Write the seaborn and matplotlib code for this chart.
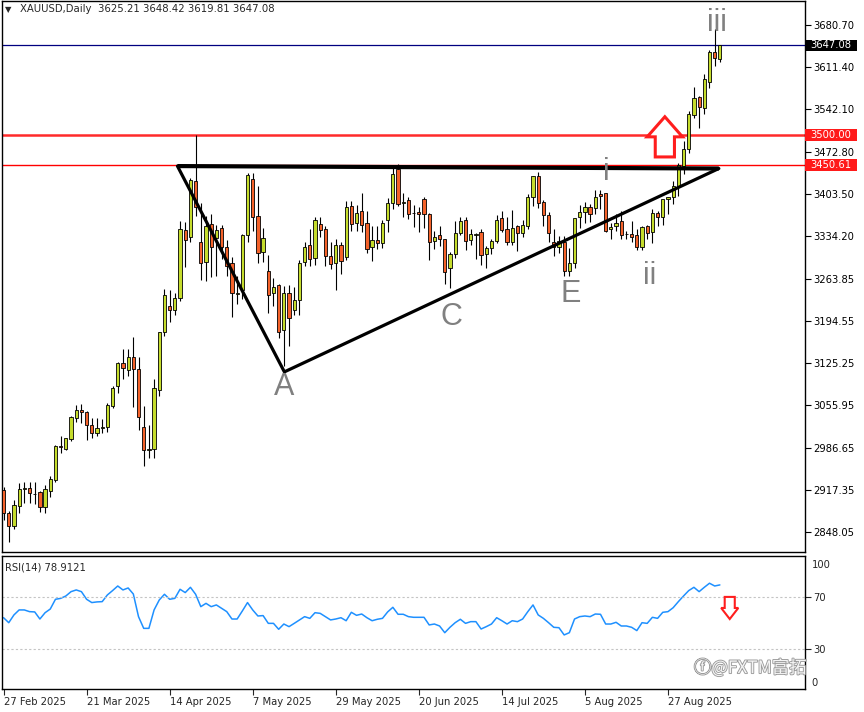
import seaborn as sns
import matplotlib.pyplot as plt
import matplotlib.patheffects as pe
from matplotlib.patches import Polygon, Rectangle
from matplotlib.transforms import blended_transform_factory
import numpy as np
import pandas as pd

# daily bars, 27 Feb 2025 .. 10 Sep 2025 (no bar on Good Friday)
dates = pd.bdate_range("2025-02-27", "2025-09-10")
dates = dates[dates != pd.Timestamp("2025-04-18")]

opens = [2917, 2879, 2858, 2891, 2919, 2920, 2911, 2914, 2889, 2915,
         2933, 2989, 2985, 3001, 3035, 3049, 3045, 3024, 3011, 3019,
         3021, 3055, 3088, 3125, 3114, 3135, 3116, 3020, 2983, 2985,
         3081, 3176, 3219, 3213, 3232, 3344, 3332, 3424, 3325, 3291,
         3354, 3331, 3347, 3316, 3290, 3239, 3245, 3335, 3428, 3367,
         3308, 3277, 3240, 3254, 3180, 3241, 3213, 3229, 3291, 3319,
         3298, 3354, 3346, 3301, 3290, 3319, 3300, 3383, 3355, 3375,
         3355, 3316, 3327, 3322, 3360, 3388, 3444, 3388, 3393, 3372,
         3373, 3395, 3370, 3326, 3336, 3329, 3282, 3305, 3339, 3360,
         3327, 3336, 3341, 3305, 3314, 3326, 3364, 3346, 3324, 3350,
         3339, 3350, 3398, 3432, 3390, 3369, 3324, 3316, 3324, 3277,
         3290, 3365, 3374, 3382, 3380, 3403, 3405, 3346, 3351, 3359,
         3337, 3337, 3336, 3316, 3350, 3341, 3372, 3365, 3395, 3398,
         3416, 3449, 3477, 3533, 3563, 3544, 3587, 3636, 3625.21]
highs = [2922, 2883, 2900, 2929, 2930, 2930, 2930, 2915, 2925, 2940,
         2991, 3006, 3003, 3038, 3057, 3058, 3047, 3036, 3035, 3033,
         3060, 3087, 3128, 3149, 3149, 3168, 3136, 3055, 3023, 3100,
         3176, 3247, 3245, 3240, 3358, 3357, 3430, 3500, 3388, 3367,
         3370, 3352, 3353, 3328, 3300, 3269, 3337, 3438, 3438, 3416,
         3347, 3303, 3265, 3256, 3252, 3253, 3250, 3295, 3325, 3345,
         3366, 3365, 3350, 3325, 3330, 3325, 3392, 3392, 3385, 3405,
         3375, 3350, 3350, 3360, 3397, 3446, 3452, 3405, 3398, 3385,
         3382, 3398, 3372, 3342, 3350, 3330, 3308, 3358, 3365, 3366,
         3345, 3339, 3345, 3317, 3330, 3369, 3375, 3366, 3377, 3353,
         3361, 3403, 3433, 3439, 3393, 3373, 3345, 3334, 3334, 3315,
         3364, 3385, 3390, 3386, 3409, 3410, 3405, 3356, 3370, 3375,
         3343, 3359, 3345, 3350, 3352, 3378, 3376, 3394, 3398, 3424,
         3454, 3490, 3540, 3579, 3564, 3600, 3640, 3674, 3648.42]
lows = [2868, 2832, 2853, 2880, 2896, 2895, 2894, 2881, 2880, 2905,
        2930, 2978, 2982, 2997, 3029, 3027, 2999, 3002, 3006, 3011,
        3013, 3052, 3076, 3100, 3105, 3054, 3015, 2957, 2970, 2970,
        3072, 3170, 3193, 3205, 3228, 3283, 3325, 3367, 3262, 3260,
        3267, 3268, 3296, 3268, 3201, 3223, 3230, 3324, 3343, 3290,
        3292, 3207, 3220, 3167, 3120, 3154, 3205, 3205, 3285, 3285,
        3287, 3333, 3285, 3280, 3245, 3271, 3295, 3343, 3343, 3340,
        3307, 3293, 3313, 3315, 3340, 3378, 3383, 3365, 3362, 3349,
        3340, 3347, 3295, 3313, 3318, 3255, 3249, 3298, 3335, 3311,
        3320, 3296, 3287, 3282, 3305, 3322, 3341, 3320, 3319, 3310,
        3333, 3345, 3384, 3380, 3351, 3325, 3301, 3307, 3268, 3269,
        3281, 3347, 3356, 3357, 3370, 3378, 3340, 3330, 3342, 3330,
        3330, 3324, 3311, 3311, 3330, 3322, 3350, 3352, 3370, 3386,
        3400, 3436, 3470, 3528, 3511, 3534, 3577, 3613, 3619.81]
closes = [2879, 2858, 2892, 2919, 2920, 2912, 2910, 2889, 2919, 2935,
          2989, 2988, 3002, 3037, 3048, 3045, 3024, 3011, 3019, 3020,
          3057, 3084, 3125, 3118, 3135, 3116, 3037, 2983, 2984, 3084,
          3176, 3237, 3213, 3232, 3346, 3327, 3426, 3382, 3290, 3351,
          3316, 3344, 3316, 3285, 3240, 3241, 3335, 3434, 3365, 3306,
          3331, 3237, 3250, 3176, 3241, 3199, 3229, 3290, 3316, 3296,
          3360, 3344, 3301, 3288, 3319, 3293, 3382, 3354, 3372, 3352,
          3313, 3327, 3322, 3355, 3388, 3436, 3387, 3390, 3370, 3372,
          3370, 3370, 3324, 3332, 3330, 3275, 3305, 3339, 3359, 3326,
          3337, 3337, 3303, 3314, 3326, 3360, 3344, 3324, 3347, 3339,
          3352, 3398, 3432, 3388, 3369, 3339, 3316, 3326, 3277, 3290,
          3364, 3374, 3381, 3371, 3398, 3400, 3342, 3349, 3355, 3336,
          3337, 3332, 3316, 3349, 3339, 3372, 3365, 3395, 3398, 3416,
          3451, 3477, 3535, 3561, 3546, 3592, 3636, 3627, 3647.08]
rsi = [54.0, 50.2, 56.1, 59.9, 59.9, 58.6, 58.4, 53.0, 57.8, 60.6,
       68.0, 68.7, 70.5, 73.8, 75.1, 73.8, 68.0, 65.5, 66.0, 66.2,
       71.3, 74.6, 78.1, 75.1, 76.6, 72.0, 54.8, 45.9, 45.9, 59.9,
       67.5, 71.8, 68.0, 68.7, 75.6, 73.1, 77.1, 71.8, 62.4, 64.9,
       62.4, 63.7, 61.1, 58.6, 53.0, 53.0, 59.1, 65.5, 59.9, 55.3,
       55.6, 49.7, 49.7, 45.2, 49.2, 47.2, 49.7, 52.3, 54.8, 53.5,
       57.8, 57.3, 54.8, 52.3, 53.0, 54.0, 51.7, 58.1, 55.8, 56.8,
       54.0, 51.7, 52.8, 53.5, 58.4, 61.9, 56.6, 56.6, 54.8, 54.3,
       54.3, 54.3, 48.5, 49.2, 47.7, 42.6, 46.7, 50.2, 52.8, 49.7,
       51.0, 51.0, 45.4, 47.2, 49.2, 54.0, 51.7, 49.2, 51.7, 51.0,
       53.0, 58.6, 63.7, 56.1, 53.5, 50.2, 46.7, 46.4, 40.9, 42.6,
       53.0, 54.8, 55.3, 54.8, 56.8, 56.6, 49.2, 49.2, 50.5, 47.7,
       47.7, 46.7, 44.2, 50.2, 49.7, 54.3, 53.5, 58.1, 58.6, 61.6,
       66.2, 70.5, 74.6, 77.1, 73.8, 77.1, 80.2, 78.1, 78.9121]

price_ticks = [3680.70, 3611.40, 3542.10, 3472.80, 3403.50, 3334.20, 3263.85,
               3194.55, 3125.25, 3055.95, 2986.65, 2917.35, 2848.05]
last_price = 3647.08
levels = [3500.00, 3450.61]

# wave labels: (text, bar, price)
waves = [("A", 54.1, 3086), ("C", 86.3, 3201), ("E", 109.2, 3239),
         ("i", 116.2, 3439), ("ii", 124.5, 3268), ("iii", 137.4, 3684)]
# triangle pivots (bar, price)
tri_left = (33.5, 3449)
tri_a = (54.1, 3111)
tri_apex = (137.8, 3445)

BULL = "#c5dc2c"
BEAR = "#f4622a"

df = pd.DataFrame({"date": dates, "open": opens, "high": highs,
                   "low": lows, "close": closes, "rsi": rsi})
df["bar"] = np.arange(len(df))

sns.set_style("white")
plt.rcParams["font.family"] = ["DejaVu Sans"]

fig = plt.figure(figsize=(8.64, 7.12), dpi=100)
ax = fig.add_axes([2 / 864, 1 - 552 / 712, 803 / 864, 551 / 712])
ax2 = fig.add_axes([2 / 864, 1 - 689 / 712, 803 / 864, 133 / 712])

x = df["bar"].to_numpy()
o = df["open"].to_numpy()
c = df["close"].to_numpy()
up = c >= o

ax.vlines(x, df["low"], df["high"], color="black", lw=0.8, zorder=2)
ax.bar(x[up], (c - o)[up], bottom=o[up], width=0.62, color=BULL,
       edgecolor="black", lw=0.6, zorder=3)
ax.bar(x[~up], (o - c)[~up], bottom=c[~up], width=0.62, color=BEAR,
       edgecolor="black", lw=0.6, zorder=3)

ax.axhline(last_price, color="#000080", lw=0.9, zorder=1)
ax.axhline(levels[0], color="#ff2a2a", lw=1.8, zorder=1)
ax.axhline(levels[1], color="#ff0000", lw=1.0, zorder=1)

ax.plot([tri_left[0], tri_apex[0]], [tri_left[1], tri_apex[1]],
        color="black", lw=3.0, solid_capstyle="butt", zorder=4)
ax.plot([tri_left[0], tri_a[0], tri_apex[0]], [tri_left[1], tri_a[1], tri_apex[1]],
        color="black", lw=2.3, zorder=4)

for s, bx, py in waves:
    ax.text(bx, py, s, ha="center", va="center", fontsize=22,
            color="#808080", family="Liberation Sans", zorder=5)


def block_arrow(axis, cx, tip, base, tail, head_w, shaft_w, lw):
    pts = [(cx, tip), (cx + head_w, base), (cx + shaft_w, base),
           (cx + shaft_w, tail), (cx - shaft_w, tail), (cx - shaft_w, base),
           (cx - head_w, base)]
    axis.add_patch(Polygon(pts, closed=True, fc="white", ec="#ff1e1e",
                           lw=lw, zorder=6, clip_on=False))


block_arrow(ax, 127.4, 3530, 3497, 3464, 3.4, 1.85, 2.2)

ax.set_xlim(-0.3, 154.4)
ax.set_ylim(2815.2, 3720.1)
ax.set_xticks([])
ax.yaxis.tick_right()
ax.set_yticks(price_ticks)
ax.set_yticklabels([f"{v:.2f}" for v in price_ticks])
ax.tick_params(axis="y", length=4, width=0.8, pad=2, labelsize=7.2,
               colors="black", right=True)
for sp in ax.spines.values():
    sp.set_color("black")
    sp.set_linewidth(1.0)

# price tags on the scale
tr = blended_transform_factory(ax.transAxes, ax.transData)
for val, fc in [(last_price, "black"), (levels[0], "#ff1a1a"), (levels[1], "#ff1a1a")]:
    ax.add_patch(Rectangle((1.0, val - 9.5), 0.065, 19, transform=tr,
                           fc=fc, ec="none", clip_on=False, zorder=7))
    ax.text(1.007, val, f"{val:.2f}", transform=tr, ha="left", va="center",
            color="white", fontsize=7.2, zorder=8, clip_on=False)

ax.text(0.004, 0.985, "\u25BC", transform=ax.transAxes, fontsize=6,
        va="center", ha="left")
ax.text(0.022, 0.985, "XAUUSD,Daily  3625.21 3648.42 3619.81 3647.08",
        transform=ax.transAxes, fontsize=7.3, va="center", ha="left")

# RSI panel
sns.lineplot(data=df, x="bar", y="rsi", ax=ax2, color="#1e90ff", lw=1.1)
for lvl in (70, 30):
    ax2.axhline(lvl, color="#c4c4c4", lw=0.8, ls=(0, (2, 2)))
block_arrow(ax2, 139.9, 53.0, 61.4, 69.8, 1.65, 0.97, 1.5)

ax2.set_xlim(-0.3, 154.4)
ax2.set_ylim(-0.2, 100.9)
ax2.set_xlabel("")
ax2.set_ylabel("")
ax2.yaxis.tick_right()
ax2.set_yticks([70, 30])
ax2.set_yticklabels(["70", "30"])
ax2.tick_params(axis="y", length=4, width=0.8, pad=2, labelsize=7.2, right=True)
tr2 = blended_transform_factory(ax2.transAxes, ax2.transData)
ax2.text(1.008, 94.0, "100", transform=tr2, fontsize=7.2, va="center", ha="left")
ax2.text(1.008, 4.5, "0", transform=tr2, fontsize=7.2, va="center", ha="left")
ax2.text(0.004, 92.5, f"RSI(14) {rsi[-1]:.4f}", transform=tr2, fontsize=7.2,
         va="center", ha="left")

tick_bars = df["bar"].iloc[::16]
ax2.set_xticks(tick_bars)
ax2.set_xticklabels([f"{d.day} {d:%b %Y}" for d in df["date"].iloc[::16]],
                    ha="left")
ax2.tick_params(axis="x", length=4, width=0.8, pad=2, labelsize=7.2, bottom=True)
for sp in ax2.spines.values():
    sp.set_color("black")
    sp.set_linewidth(1.0)

fig.text(694 / 864, 1 - 668 / 712, "\u24D5@FXTM富拓", fontsize=12.5,
         family=["Noto Sans CJK SC", "DejaVu Sans"], color="white",
         va="center", ha="left", alpha=0.9,
         path_effects=[pe.Stroke(linewidth=1.3, foreground="#909090"), pe.Normal()])

fig.savefig("out.png", dpi=100)
